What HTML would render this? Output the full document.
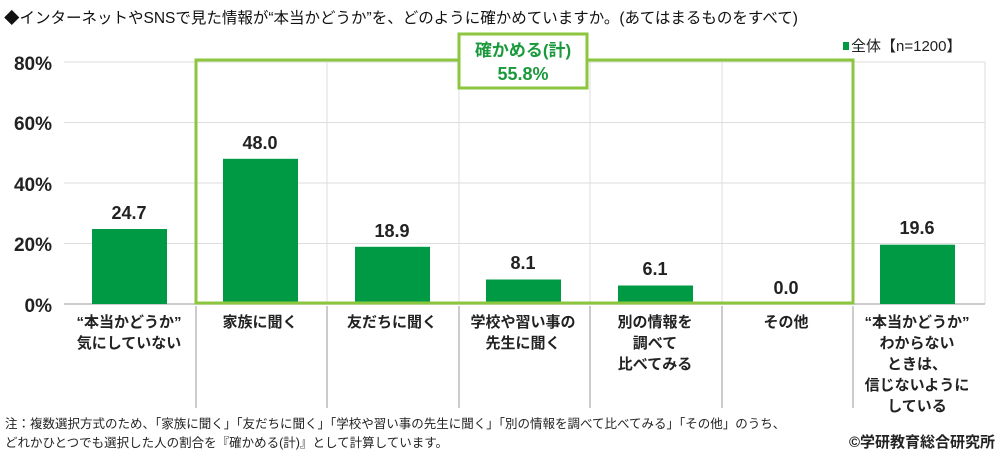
<!DOCTYPE html><html><head><meta charset="utf-8"><style>
body{margin:0;background:#fff}
svg{display:block;font-family:"Liberation Sans","Noto Sans CJK JP",sans-serif}
.t{font-weight:bold;font-size:15px;fill:#222;text-anchor:middle}
.v{font-weight:bold;font-size:18px;fill:#222;text-anchor:middle}
.y{font-weight:bold;font-size:19px;fill:#222;text-anchor:end}
</style></head><body>
<svg width="1000" height="455" viewBox="0 0 1000 455">
<text x="4" y="23" font-size="15.5" fill="#111">◆インターネットやSNSで見た情報が“本当かどうか”を、どのように確かめていますか。(あてはまるものをすべて)</text>
<g stroke="#ddd" stroke-width="1">
<line x1="64" y1="62" x2="985" y2="62"/><line x1="64" y1="122.5" x2="985" y2="122.5"/><line x1="64" y1="183" x2="985" y2="183"/><line x1="64" y1="243.5" x2="985" y2="243.5"/>
<line x1="196" y1="62" x2="196" y2="304"/><line x1="327" y1="62" x2="327" y2="304"/><line x1="459" y1="62" x2="459" y2="304"/><line x1="590" y1="62" x2="590" y2="304"/><line x1="722" y1="62" x2="722" y2="304"/><line x1="853" y1="62" x2="853" y2="304"/><line x1="985" y1="62" x2="985" y2="304"/>
</g>
<g stroke="#bbb" stroke-width="1.5">
<line x1="64" y1="304" x2="985" y2="304"/>
<line x1="196" y1="306" x2="196" y2="408"/><line x1="327" y1="306" x2="327" y2="408"/><line x1="459" y1="306" x2="459" y2="408"/><line x1="590" y1="306" x2="590" y2="408"/><line x1="722" y1="306" x2="722" y2="408"/><line x1="853" y1="306" x2="853" y2="408"/>
</g>
<text class="y" x="52" y="70">80%</text><text class="y" x="52" y="130">60%</text><text class="y" x="52" y="191">40%</text><text class="y" x="52" y="251">20%</text><text class="y" x="52" y="312">0%</text>
<g fill="#009a44">
<rect x="92" y="229" width="75" height="75"/>
<rect x="223" y="158.8" width="75" height="145.2"/>
<rect x="355" y="246.8" width="75" height="57.2"/>
<rect x="486" y="279.5" width="75" height="24.5"/>
<rect x="618" y="285.5" width="75" height="18.5"/>
<rect x="880" y="244.7" width="75" height="59.3"/>
</g>
<rect x="196" y="60" width="657" height="243" fill="none" stroke="#8cc63f" stroke-width="3"/>
<rect x="459" y="34" width="128" height="54" fill="#fff" stroke="#8cc63f" stroke-width="3"/>
<text x="523" y="56" font-size="17" font-weight="bold" fill="#1a9a3c" text-anchor="middle">確かめる(計)</text>
<text x="523" y="80" font-size="18" font-weight="bold" fill="#1a9a3c" text-anchor="middle">55.8%</text>
<rect x="843" y="42" width="6" height="8" fill="#009a44"/>
<text x="851" y="51" font-size="15" fill="#222">全体【n=1200】</text>
<text class="v" x="129" y="219">24.7</text><text class="v" x="260" y="149">48.0</text><text class="v" x="392" y="237">18.9</text><text class="v" x="523" y="269">8.1</text><text class="v" x="655" y="275">6.1</text><text class="v" x="786" y="294">0.0</text><text class="v" x="917" y="234">19.6</text>
<text class="t" x="129" y="327">“本当かどうか”</text><text class="t" x="129" y="348">気にしていない</text>
<text class="t" x="260" y="327">家族に聞く</text>
<text class="t" x="392" y="327">友だちに聞く</text>
<text class="t" x="523" y="327">学校や習い事の</text><text class="t" x="523" y="348">先生に聞く</text>
<text class="t" x="655" y="327">別の情報を</text><text class="t" x="655" y="348">調べて</text><text class="t" x="655" y="369">比べてみる</text>
<text class="t" x="786" y="327">その他</text>
<text class="t" x="917" y="327">“本当かどうか”</text><text class="t" x="917" y="348">わからない</text><text class="t" x="917" y="369">ときは、</text><text class="t" x="917" y="390">信じないように</text><text class="t" x="917" y="411">している</text>
<text x="5" y="428" font-size="12.5" fill="#222">注：複数選択方式のため、「家族に聞く」「友だちに聞く」「学校や習い事の先生に聞く」「別の情報を調べて比べてみる」「その他」のうち、</text>
<text x="5" y="447" font-size="12.5" fill="#222">どれかひとつでも選択した人の割合を『確かめる(計)』として計算しています。</text>
<text x="995" y="447" font-size="15" font-weight="bold" fill="#222" text-anchor="end">©学研教育総合研究所</text>
</svg></body></html>
